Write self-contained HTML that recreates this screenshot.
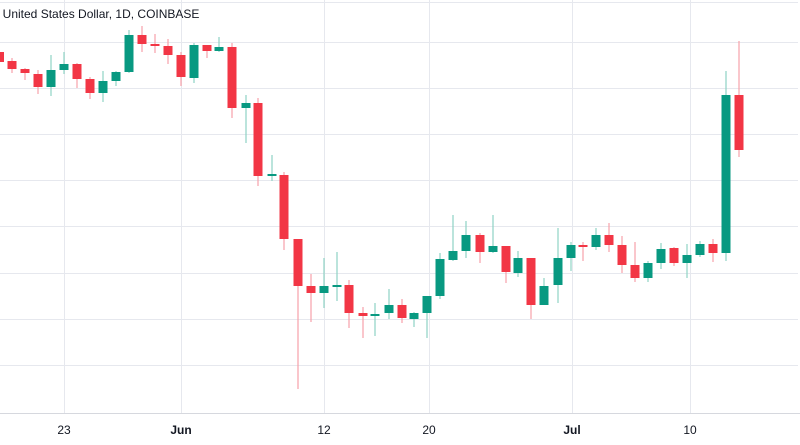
<!DOCTYPE html>
<html><head><meta charset="utf-8"><style>
html,body{margin:0;padding:0;background:#fff;width:800px;height:445px;overflow:hidden}
svg{display:block}
text{font-family:"Liberation Sans",sans-serif;fill:#131722}
</style></head><body>
<svg width="800" height="445" viewBox="0 0 800 445" xmlns="http://www.w3.org/2000/svg">
<g stroke="#e6e8ee" stroke-width="1">
<line x1="0" x2="798" y1="2.5" y2="2.5"/>
<line x1="0" x2="798" y1="42.5" y2="42.5"/>
<line x1="0" x2="798" y1="88.5" y2="88.5"/>
<line x1="0" x2="798" y1="134.5" y2="134.5"/>
<line x1="0" x2="798" y1="180.5" y2="180.5"/>
<line x1="0" x2="798" y1="226.5" y2="226.5"/>
<line x1="0" x2="798" y1="273.5" y2="273.5"/>
<line x1="0" x2="798" y1="319.5" y2="319.5"/>
<line x1="0" x2="798" y1="365.5" y2="365.5"/>
<line x1="64.5" x2="64.5" y1="0" y2="413"/>
<line x1="181.5" x2="181.5" y1="0" y2="413"/>
<line x1="324.5" x2="324.5" y1="0" y2="413"/>
<line x1="429.5" x2="429.5" y1="0" y2="413"/>
<line x1="572.5" x2="572.5" y1="0" y2="413"/>
<line x1="690.5" x2="690.5" y1="0" y2="413"/>
</g>
<line x1="0" x2="800" y1="413.5" y2="413.5" stroke="#d6d8de"/>
<text x="-4" y="18" font-size="12">/ United States Dollar, 1D, COINBASE</text>
<g font-size="12" text-anchor="middle">
<text x="64" y="434">23</text>
<text x="181" y="434" font-weight="bold">Jun</text>
<text x="324" y="434">12</text>
<text x="429" y="434">20</text>
<text x="572" y="434" font-weight="bold">Jul</text>
<text x="690" y="434">10</text>
</g>
<g id="c"></g>
<g>
<!-- wicks -->
<g stroke-width="1.2">
<g stroke="#f7a1a9">
<line x1="12" x2="12" y1="58" y2="73"/>
<line x1="25" x2="25" y1="68" y2="80"/>
<line x1="38" x2="38" y1="70" y2="94"/>
<line x1="77" x2="77" y1="63" y2="88"/>
<line x1="90" x2="90" y1="77" y2="99"/>
<line x1="142" x2="142" y1="26" y2="52"/>
<line x1="155" x2="155" y1="34" y2="53"/>
<line x1="168" x2="168" y1="39" y2="64"/>
<line x1="181" x2="181" y1="52" y2="86"/>
<line x1="207" x2="207" y1="45" y2="58"/>
<line x1="232" x2="232" y1="43" y2="118"/>
<line x1="258" x2="258" y1="98" y2="186"/>
<line x1="284" x2="284" y1="172" y2="250"/>
<line x1="298" x2="298" y1="239" y2="389"/>
<line x1="311" x2="311" y1="274" y2="322"/>
<line x1="349" x2="349" y1="280" y2="328"/>
<line x1="363" x2="363" y1="307" y2="338"/>
<line x1="402" x2="402" y1="299" y2="323"/>
<line x1="480" x2="480" y1="233" y2="263"/>
<line x1="506" x2="506" y1="246" y2="283"/>
<line x1="531" x2="531" y1="258" y2="319"/>
<line x1="583" x2="583" y1="242" y2="261"/>
<line x1="609" x2="609" y1="223" y2="252"/>
<line x1="622" x2="622" y1="236" y2="273"/>
<line x1="635" x2="635" y1="242" y2="282"/>
<line x1="674" x2="674" y1="247" y2="266"/>
<line x1="713" x2="713" y1="239" y2="262"/>
<line x1="739" x2="739" y1="41" y2="157"/>
</g>
<g stroke="#8ed3c4">
<line x1="51" x2="51" y1="55" y2="96"/>
<line x1="64" x2="64" y1="52" y2="74"/>
<line x1="103" x2="103" y1="71" y2="102"/>
<line x1="116" x2="116" y1="71" y2="86"/>
<line x1="129" x2="129" y1="30" y2="73"/>
<line x1="194" x2="194" y1="43" y2="83"/>
<line x1="219" x2="219" y1="37" y2="52"/>
<line x1="246" x2="246" y1="95" y2="143"/>
<line x1="272" x2="272" y1="155" y2="181"/>
<line x1="324" x2="324" y1="258" y2="308"/>
<line x1="337" x2="337" y1="252" y2="301"/>
<line x1="375" x2="375" y1="303" y2="336"/>
<line x1="389" x2="389" y1="289" y2="319"/>
<line x1="414" x2="414" y1="312" y2="327"/>
<line x1="427" x2="427" y1="296" y2="338"/>
<line x1="440" x2="440" y1="253" y2="299"/>
<line x1="453" x2="453" y1="215" y2="261"/>
<line x1="466" x2="466" y1="221" y2="258"/>
<line x1="493" x2="493" y1="215" y2="253"/>
<line x1="518" x2="518" y1="251" y2="277"/>
<line x1="544" x2="544" y1="278" y2="305"/>
<line x1="558" x2="558" y1="228" y2="303"/>
<line x1="571" x2="571" y1="242" y2="271"/>
<line x1="596" x2="596" y1="228" y2="250"/>
<line x1="648" x2="648" y1="261" y2="282"/>
<line x1="661" x2="661" y1="243" y2="269"/>
<line x1="687" x2="687" y1="244" y2="278"/>
<line x1="700" x2="700" y1="241" y2="257"/>
<line x1="726" x2="726" y1="71" y2="261"/>
</g>
</g>
<!-- bodies -->
<g fill="#f23645">
<rect x="-3" y="52" width="7" height="10"/>
<rect x="7.5" y="61" width="9" height="8"/>
<rect x="20.5" y="69" width="9" height="4"/>
<rect x="33.5" y="74" width="9" height="13"/>
<rect x="72.5" y="64" width="9" height="15"/>
<rect x="85.5" y="79" width="9" height="14"/>
<rect x="137.5" y="35" width="9" height="9"/>
<rect x="150.5" y="44" width="9" height="2"/>
<rect x="163.5" y="46" width="9" height="9"/>
<rect x="176.5" y="55" width="9" height="22"/>
<rect x="202.5" y="45" width="9" height="6"/>
<rect x="227.5" y="47" width="9" height="61"/>
<rect x="253.5" y="103" width="9" height="73"/>
<rect x="279.5" y="175" width="9" height="64"/>
<rect x="293.5" y="239" width="9" height="47"/>
<rect x="306.5" y="286" width="9" height="7"/>
<rect x="344.5" y="285" width="9" height="28"/>
<rect x="358.5" y="313" width="9" height="3"/>
<rect x="397.5" y="305" width="9" height="13"/>
<rect x="475.5" y="235" width="9" height="17"/>
<rect x="501.5" y="246" width="9" height="26"/>
<rect x="526.5" y="258" width="9" height="47"/>
<rect x="578.5" y="245" width="9" height="2"/>
<rect x="604.5" y="235" width="9" height="10"/>
<rect x="617.5" y="245" width="9" height="20"/>
<rect x="630.5" y="265" width="9" height="13"/>
<rect x="669.5" y="248" width="9" height="15"/>
<rect x="708.5" y="244" width="9" height="9"/>
<rect x="734.5" y="95" width="9" height="55"/>
</g>
<g fill="#089981">
<rect x="46.5" y="70" width="9" height="17"/>
<rect x="59.5" y="64" width="9" height="6"/>
<rect x="98.5" y="81" width="9" height="12"/>
<rect x="111.5" y="72" width="9" height="9"/>
<rect x="124.5" y="35" width="9" height="37"/>
<rect x="189.5" y="45" width="9" height="33"/>
<rect x="214.5" y="47" width="9" height="4"/>
<rect x="241.5" y="103" width="9" height="5"/>
<rect x="267.5" y="174" width="9" height="2"/>
<rect x="319.5" y="286" width="9" height="7"/>
<rect x="332.5" y="285" width="9" height="2"/>
<rect x="370.5" y="314" width="9" height="2"/>
<rect x="384.5" y="305" width="9" height="8"/>
<rect x="409.5" y="313" width="9" height="6"/>
<rect x="422.5" y="296" width="9" height="17"/>
<rect x="435.5" y="259" width="9" height="37"/>
<rect x="448.5" y="251" width="9" height="9"/>
<rect x="461.5" y="235" width="9" height="16"/>
<rect x="488.5" y="246" width="9" height="6"/>
<rect x="513.5" y="258" width="9" height="15"/>
<rect x="539.5" y="286" width="9" height="19"/>
<rect x="553.5" y="258" width="9" height="27"/>
<rect x="566.5" y="245" width="9" height="13"/>
<rect x="591.5" y="235" width="9" height="12"/>
<rect x="643.5" y="263" width="9" height="15"/>
<rect x="656.5" y="249" width="9" height="14"/>
<rect x="682.5" y="255" width="9" height="8"/>
<rect x="695.5" y="244" width="9" height="11"/>
<rect x="721.5" y="95" width="9" height="158"/>
</g>
</g>
</svg>
</body></html>
